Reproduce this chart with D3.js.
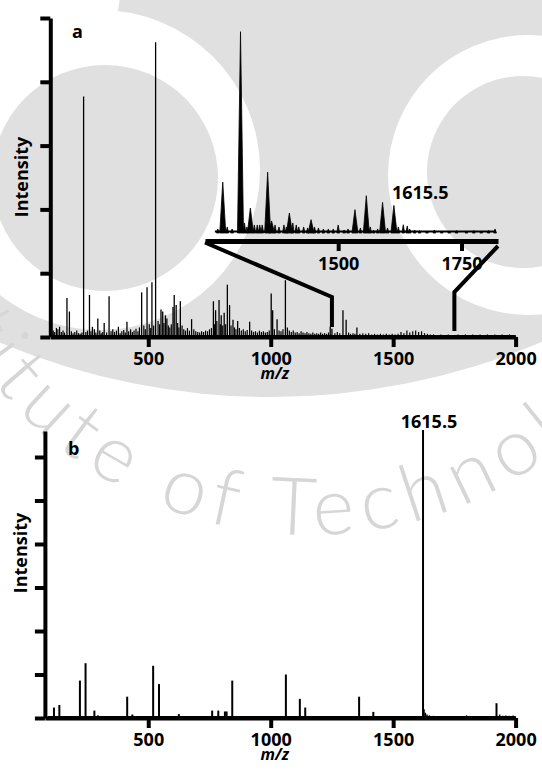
<!DOCTYPE html>
<html>
<head>
<meta charset="utf-8">
<script src="https://cdn.jsdelivr.net/npm/d3@7"></script>
<style>
  body { margin: 0; background: #fff; }
  svg { display: block; }
</style>
</head>
<body>
<svg id="chart" width="542" height="770"></svg>
<script>
// panel a, main peaks: [m/z, intensity in axis-tick units]
const peaksA = [
  [168, 0.61], [178, 0.40], [236, 3.77], [260, 0.66], [272, 0.16], [294, 0.29],
  [320, 0.22], [340, 0.64], [413, 0.24], [473, 0.70], [495, 0.78], [515, 0.86],
  [530, 4.62], [552, 0.43], [559, 0.40], [570, 0.34], [576, 0.29], [601, 0.47],
  [606, 0.66], [614, 0.50], [631, 0.56], [677, 0.28], [766, 0.56], [775, 0.42],
  [789, 0.58], [798, 0.34], [810, 0.38], [823, 0.82], [832, 0.50], [846, 0.27],
  [865, 0.25], [914, 0.24], [1002, 0.68], [1008, 0.42], [1026, 0.28], [1060, 0.89],
  [1243, 0.16], [1250, 0.13], [1295, 0.42], [1308, 0.27], [1352, 0.15]
];
// panel a, small peaks along the baseline
const noiseA = [
  [105, 0.06], [112, 0.10], [118, 0.08], [125, 0.14], [131, 0.12], [138, 0.16], [145, 0.08],
  [152, 0.10], [158, 0.07], [186, 0.09], [193, 0.06], [200, 0.08], [208, 0.10], [215, 0.06],
  [222, 0.05], [229, 0.07], [245, 0.08], [252, 0.10], [266, 0.09], [280, 0.12], [286, 0.07],
  [302, 0.10], [308, 0.06], [314, 0.08], [330, 0.07], [348, 0.09], [355, 0.12], [362, 0.08],
  [370, 0.10], [378, 0.16], [385, 0.06], [392, 0.09], [400, 0.11], [406, 0.07], [420, 0.09],
  [428, 0.12], [435, 0.08], [442, 0.10], [450, 0.13], [458, 0.09], [464, 0.15], [482, 0.18],
  [488, 0.12], [504, 0.20], [510, 0.14], [522, 0.18], [540, 0.25], [546, 0.20], [564, 0.22],
  [582, 0.18], [588, 0.15], [594, 0.20], [620, 0.22], [625, 0.15], [638, 0.18], [645, 0.12],
  [652, 0.10], [660, 0.14], [668, 0.10], [686, 0.12], [694, 0.09], [702, 0.08], [710, 0.07],
  [718, 0.09], [726, 0.08], [734, 0.10], [742, 0.09], [750, 0.12], [758, 0.14], [770, 0.20],
  [780, 0.25], [794, 0.20], [804, 0.18], [816, 0.20], [838, 0.18], [852, 0.15], [858, 0.12],
  [872, 0.14], [880, 0.10], [888, 0.12], [896, 0.09], [904, 0.11], [922, 0.10], [930, 0.08],
  [938, 0.09], [946, 0.07], [954, 0.10], [962, 0.08], [970, 0.09], [978, 0.07], [986, 0.08],
  [994, 0.10], [1015, 0.12], [1034, 0.10], [1042, 0.09], [1050, 0.12], [1068, 0.15], [1076, 0.10],
  [1084, 0.08], [1092, 0.10], [1100, 0.07], [1108, 0.08], [1116, 0.06], [1124, 0.09], [1132, 0.07],
  [1140, 0.06], [1148, 0.08], [1156, 0.06], [1164, 0.05], [1172, 0.07], [1180, 0.05], [1188, 0.06],
  [1196, 0.05], [1204, 0.07], [1212, 0.05], [1220, 0.06], [1228, 0.05], [1236, 0.07], [1262, 0.06],
  [1272, 0.08], [1282, 0.06], [1318, 0.07], [1326, 0.05], [1336, 0.06], [1344, 0.05], [1364, 0.05],
  [1376, 0.06], [1388, 0.05], [1400, 0.06], [1412, 0.04], [1424, 0.05], [1436, 0.04], [1448, 0.05],
  [1460, 0.04], [1472, 0.05], [1484, 0.04], [1496, 0.05], [1508, 0.04], [1520, 0.05], [1532, 0.08],
  [1544, 0.06], [1556, 0.10], [1568, 0.07], [1580, 0.09], [1592, 0.10], [1604, 0.08], [1616, 0.09],
  [1628, 0.06], [1640, 0.05], [1652, 0.04], [1665, 0.04], [1680, 0.03], [1695, 0.04], [1710, 0.03],
  [1725, 0.04], [1740, 0.03], [1765, 0.04], [1780, 0.03], [1795, 0.04], [1810, 0.03], [1825, 0.04],
  [1840, 0.03], [1855, 0.04], [1870, 0.03], [1885, 0.04], [1900, 0.03], [1915, 0.04], [1930, 0.03],
  [1945, 0.04], [1960, 0.03], [1975, 0.04], [1990, 0.03]
];
// inset of panel a: [m/z, relative intensity 0-100]
const insetPeaks = [
  [1266, 25.3], [1302, 100], [1322, 12.4], [1357, 30.2], [1401, 9.9], [1445, 6.6],
  [1500, 4.0], [1534, 11.6], [1557, 18.5], [1590, 15.2], [1613, 13.7], [1632, 4.1]
];
const insetNoise = [
  [1256, 2], [1275, 3], [1285, 2], [1310, 5], [1315, 3], [1330, 4], [1336, 4], [1341, 4],
  [1346, 4], [1365, 6], [1372, 4], [1380, 3], [1390, 4], [1395, 3], [1408, 5], [1415, 4],
  [1420, 3], [1430, 3], [1438, 2.5], [1452, 3], [1460, 2.5], [1470, 2], [1480, 2], [1490, 2],
  [1512, 1.5], [1520, 2], [1545, 2.5], [1565, 3], [1572, 1.5], [1580, 2], [1600, 2.5],
  [1622, 3], [1640, 3.5], [1645, 2], [1655, 1.5], [1665, 1.2], [1680, 1], [1695, 1.5],
  [1710, 1], [1725, 1], [1740, 1.2], [1760, 1], [1775, 1.2], [1790, 1], [1805, 1.3], [1818, 2]
];
// panel b peaks: [m/z, intensity in axis-tick units]
const peaksB = [
  [115, 0.24], [137, 0.30], [221, 0.86], [244, 1.26], [280, 0.17], [295, 0.06], [414, 0.49],
  [435, 0.08], [520, 1.20], [544, 0.78], [625, 0.09], [761, 0.17], [786, 0.17], [813, 0.15],
  [820, 0.15], [843, 0.86], [1062, 1.00], [1119, 0.44], [1141, 0.24], [1361, 0.49], [1419, 0.14],
  [1622, 6.62], [1922, 0.34]
];
const noiseB = [
  [100, 0.03], [170, 0.03], [200, 0.02], [320, 0.03], [360, 0.02], [470, 0.03], [600, 0.03],
  [680, 0.02], [700, 0.03], [740, 0.02], [880, 0.03], [920, 0.02], [960, 0.03], [1000, 0.02],
  [1040, 0.03], [1090, 0.04], [1170, 0.03], [1200, 0.02], [1240, 0.03], [1280, 0.02], [1320, 0.03],
  [1390, 0.03], [1450, 0.03], [1500, 0.02], [1550, 0.03], [1590, 0.02], [1626, 0.20], [1631, 0.12],
  [1638, 0.08], [1648, 0.06], [1665, 0.05], [1690, 0.04], [1720, 0.04], [1760, 0.03], [1800, 0.06],
  [1840, 0.03], [1880, 0.03], [1935, 0.08], [1948, 0.05], [1960, 0.06], [1975, 0.05], [1990, 0.06]
];
const xTicks = [500, 1000, 1500, 2000];
const insetTicks = [1500, 1750];
const yTicksA = [0, 1, 2, 3, 4, 5];
const yTicksB = [0, 1, 2, 3, 4, 5, 6];
const zoomWindow = [1250, 1750];
const labelPeak = "1615.5";
const watermarkText = "Institute of Technology";

const FONT = "'Open Sans', 'DejaVu Sans', sans-serif";
const GRAY = "#e0e0e0";
const svg = d3.select("#chart");

drawWatermark();
drawPanelA();
drawPanelB();

function drawWatermark () {
  const g = svg.append("g");
  // layered discs of the logo
  const discs = [
    { cx: 270, cy: -300, r: 697, fill: GRAY },
    { cx: 100, cy: 170, r: 160, fill: "#fff" },
    { cx: 20, cy: -10, r: 100, fill: "#fff" },
    { cx: 105, cy: 178, r: 113, fill: GRAY },
    { cx: 528, cy: 175, r: 140, fill: "#fff" },
    { cx: 523, cy: 172, r: 96, fill: GRAY }
  ];
  g.selectAll("circle").data(discs).join("circle")
    .attr("cx", d => d.cx).attr("cy", d => d.cy).attr("r", d => d.r)
    .attr("fill", d => d.fill);

  // curved institute text
  const cx = 310, cy = 130, R = 405;
  g.append("path")
    .attr("id", "wmArc")
    .attr("fill", "none")
    .attr("d", `M${cx - R},${cy} A${R},${R} 0 0,0 ${cx + R},${cy}`);

  const style = sel => sel
    .attr("font-family", "Lato, 'Open Sans', sans-serif")
    .attr("font-weight", 300)
    .attr("font-size", 80)
    .attr("letter-spacing", 9);

  // measure the part before "Technology" so the T lands where it is in the picture
  const probe = g.append("text").call(style).text("Institute of ");
  const prefix = probe.node().getComputedTextLength();
  probe.remove();
  const tStart = R * (Math.PI - Math.acos((242 - cx) / R));

  g.append("text").call(style)
    .attr("fill", "#d6d6d6")
    .append("textPath")
      .attr("href", "#wmArc")
      .attr("startOffset", tStart - prefix)
      .text(watermarkText);
}

function styleAxis (sel) {
  sel.attr("font-family", FONT).attr("font-size", 18).attr("font-weight", 700);
  sel.select(".domain").attr("stroke", "#000").attr("stroke-width", 4);
  sel.selectAll(".tick line").attr("stroke", "#000").attr("stroke-width", 4);
  sel.selectAll(".tick text").attr("fill", "#000");
}

function drawSticks (g, data, x, y, width) {
  g.append("g").selectAll("line").data(data).join("line")
    .attr("x1", d => x(d[0])).attr("x2", d => x(d[0]))
    .attr("y1", y(0)).attr("y2", d => y(d[1]))
    .attr("stroke", "#000")
    .attr("stroke-width", width);
}

function axisTitles (g, x, axisY, yMid, yTitleX, panel, panelPos) {
  g.append("text")
    .attr("x", x(1000) + 4).attr("y", axisY + 42)
    .attr("text-anchor", "middle")
    .attr("font-family", FONT).attr("font-size", 16)
    .attr("font-weight", 700).attr("font-style", "italic")
    .text("m/z");
  g.append("text")
    .attr("transform", `translate(${yTitleX},${yMid}) rotate(-90)`)
    .attr("text-anchor", "middle")
    .attr("font-family", FONT).attr("font-size", 18).attr("font-weight", 700)
    .text("Intensity");
  g.append("text")
    .attr("x", panelPos[0]).attr("y", panelPos[1])
    .attr("font-family", FONT).attr("font-size", 18).attr("font-weight", 700)
    .text(panel);
}

function drawPanelA () {
  const g = svg.append("g");
  const x = d3.scaleLinear().domain([100, 2000]).range([50.3, 515.6]);
  const y = d3.scaleLinear().domain([0, 5]).range([337, 18]);

  drawSticks(g, noiseA, x, y, 1.2);
  drawSticks(g, peaksA, x, y, 1.3);
  g.append("line")
    .attr("x1", x(100)).attr("x2", x(2000))
    .attr("y1", y(0.02)).attr("y2", y(0.02))
    .attr("stroke", "#000").attr("stroke-width", 1.5);

  g.append("g")
    .attr("transform", `translate(0,${y(0)})`)
    .call(d3.axisBottom(x).tickValues(xTicks).tickFormat(d3.format("d"))
      .tickSize(10).tickSizeOuter(0).tickPadding(5))
    .call(styleAxis);
  g.append("g")
    .attr("transform", `translate(${x(100)},0)`)
    .call(d3.axisLeft(y).tickValues(yTicksA).tickSize(10).tickSizeOuter(0).tickFormat(""))
    .call(styleAxis);

  axisTitles(g, x, y(0), 177, 28, "a", [72, 38]);

  // inset: zoom of 1250-1750
  const ix = d3.scaleLinear().domain([1230, 1824]).range([205, 498]);
  const iy = d3.scaleLinear().domain([0, 100]).range([233, 31.7]);
  const tri = d => {
    const hw = d[1] > 5 ? 3 : 1.4;
    return `M${ix(d[0]) - hw},${iy(0)} L${ix(d[0])},${iy(d[1])} L${ix(d[0]) + hw},${iy(0)} Z`;
  };
  g.append("g").selectAll("path").data(insetNoise.concat(insetPeaks)).join("path")
    .attr("d", tri)
    .attr("fill", "#000").attr("stroke", "#000").attr("stroke-width", 0.8);
  g.append("line")
    .attr("x1", ix(1250)).attr("x2", ix(1820))
    .attr("y1", iy(0.8)).attr("y2", iy(0.8))
    .attr("stroke", "#000").attr("stroke-width", 2);

  const insetAxisY = 241;
  g.append("g")
    .attr("transform", `translate(0,${insetAxisY})`)
    .call(d3.axisBottom(ix).tickValues(insetTicks).tickFormat(d3.format("d"))
      .tickSize(10).tickSizeOuter(0).tickPadding(6))
    .call(sel => {
      styleAxis(sel);
      sel.select(".domain").attr("stroke-width", 5);
    });

  const labelled = insetPeaks.find(d => d[0] === 1613);
  g.append("text")
    .attr("x", ix(labelled[0]) - 2).attr("y", iy(labelled[1]) - 6)
    .attr("font-family", FONT).attr("font-size", 18).attr("font-weight", 700)
    .text(labelPeak);

  // connector lines from the inset axis to the zoomed window
  const link = d3.line();
  g.append("path")
    .attr("d", link([[ix.range()[0], insetAxisY + 1.5], [x(zoomWindow[0]), 297], [x(zoomWindow[0]), 327]]))
    .attr("fill", "none").attr("stroke", "#000").attr("stroke-width", 4);
  g.append("path")
    .attr("d", link([[ix.range()[1], insetAxisY + 5], [x(zoomWindow[1]), 292], [x(zoomWindow[1]), 331]]))
    .attr("fill", "none").attr("stroke", "#000").attr("stroke-width", 4);
}

function drawPanelB () {
  const g = svg.append("g");
  const x = d3.scaleLinear().domain([78, 2000]).range([44.9, 515.6]);
  const y = d3.scaleLinear().domain([0, 6]).range([718, 457]);

  drawSticks(g, noiseB, x, y, 1.5);
  drawSticks(g, peaksB, x, y, 2);
  g.append("line")
    .attr("x1", x(90)).attr("x2", x(2000))
    .attr("y1", y(0.03)).attr("y2", y(0.03))
    .attr("stroke", "#000").attr("stroke-width", 1.5);

  g.append("g")
    .attr("transform", `translate(0,${y(0)})`)
    .call(d3.axisBottom(x).tickValues(xTicks).tickFormat(d3.format("d"))
      .tickSize(10).tickSizeOuter(0).tickPadding(5))
    .call(styleAxis);
  const yAxisScale = y.copy().domain([0, 6.6]).range([718, y(6.6)]);
  g.append("g")
    .attr("transform", `translate(${x(78)},0)`)
    .call(d3.axisLeft(yAxisScale).tickValues(yTicksB).tickSize(10).tickSizeOuter(0).tickFormat(""))
    .call(styleAxis);

  axisTitles(g, x, y(0), 553, 27, "b", [68, 455]);

  const top = peaksB.reduce((a, b) => (b[1] > a[1] ? b : a));
  g.append("text")
    .attr("x", x(top[0]) + 6).attr("y", y(top[1]) - 2)
    .attr("text-anchor", "middle")
    .attr("font-family", FONT).attr("font-size", 18).attr("font-weight", 700)
    .text(labelPeak);
}
</script>
</body>
</html>
